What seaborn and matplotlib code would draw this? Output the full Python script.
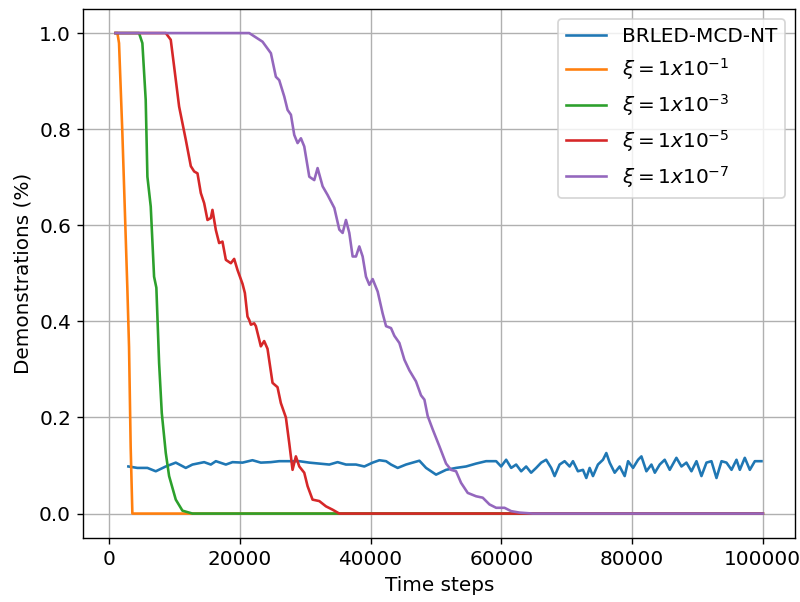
import pandas as pd
import matplotlib
matplotlib.use("Agg")
import matplotlib.pyplot as plt
import seaborn as sns

# 讀圖得到的數值
labels = ["BRLED-MCD-NT", r"$\xi = 1x10^{-1}$", r"$\xi = 1x10^{-3}$",
          r"$\xi = 1x10^{-5}$", r"$\xi = 1x10^{-7}$"]
colors = ["#1f77b4", "#ff7f0e", "#2ca02c", "#d62728", "#9467bd"]

base_x = [2960, 4340, 5870, 7150, 8680, 10210, 11740, 12760, 14550, 15570, 16340,
          17870, 18890, 20420, 21940, 23220, 24750, 26030, 27560, 29100, 30630,
          32160, 33690, 34960, 36240, 37770, 39050, 40320, 41350, 42370, 43130,
          44150, 45420, 46440, 47470, 48490, 50020, 51550, 53080, 54610, 56140,
          57670, 59210, 59970, 60740, 61510, 62270, 63040, 63800, 64560, 65330,
          66100, 66860, 67630, 68150, 68910, 69680, 70450, 70960, 71720, 72490,
          73000, 73510, 74020, 74780, 75550, 76060, 76570, 77340, 78100, 78870,
          79390, 80150, 80920, 81430, 82190, 82960, 83480, 84230, 84990, 85760,
          86780, 87550, 88310, 89080, 89850, 90610, 91380, 92140, 92910, 93680,
          94440, 95210, 95970, 96480, 97240, 98010, 98780, 99790]
base_y = [0.098, 0.095, 0.095, 0.088, 0.098, 0.106, 0.095, 0.102, 0.107, 0.102, 0.109,
          0.102, 0.107, 0.106, 0.111, 0.106, 0.107, 0.109, 0.109, 0.109, 0.106,
          0.104, 0.102, 0.107, 0.102, 0.102, 0.098, 0.106, 0.111, 0.109, 0.102,
          0.095, 0.102, 0.106, 0.110, 0.095, 0.081, 0.091, 0.095, 0.098, 0.104,
          0.109, 0.109, 0.098, 0.112, 0.095, 0.102, 0.088, 0.098, 0.085, 0.095,
          0.106, 0.112, 0.095, 0.078, 0.102, 0.109, 0.098, 0.109, 0.088, 0.091,
          0.074, 0.095, 0.078, 0.102, 0.112, 0.126, 0.106, 0.085, 0.098, 0.078,
          0.109, 0.095, 0.112, 0.119, 0.088, 0.102, 0.085, 0.102, 0.112, 0.091,
          0.116, 0.098, 0.106, 0.088, 0.109, 0.078, 0.106, 0.109, 0.074, 0.109,
          0.106, 0.091, 0.112, 0.091, 0.116, 0.091, 0.109, 0.109]

xi1_x = [1000, 1280, 1530, 2040, 2800, 3060, 3310, 3570, 100000]
xi1_y = [1.0, 1.0, 0.979, 0.792, 0.470, 0.347, 0.139, 0.0, 0.0]

xi3_x = [1000, 4590, 5100, 5610, 5870, 6380, 6890, 7240, 7660, 8070, 8680, 9190,
         10210, 11230, 12760, 100000]
xi3_y = [1.0, 1.0, 0.979, 0.861, 0.701, 0.639, 0.493, 0.470, 0.313, 0.209, 0.126,
         0.078, 0.029, 0.006, 0.0, 0.0]

xi5_x = [1000, 8680, 9440, 9950, 10720, 11740, 12510, 13020, 13530, 14040, 14550,
         15060, 15570, 15820, 16340, 16840, 17350, 17870, 18630, 19140, 19650,
         20420, 20780, 21180, 21440, 21700, 22200, 22460, 22970, 23220, 23730,
         24240, 25010, 25770, 26280, 27050, 27560, 28070, 28580, 29100, 29860,
         30370, 31130, 32160, 33180, 34200, 35220, 100000]
xi5_y = [1.0, 1.0, 0.986, 0.931, 0.847, 0.778, 0.723, 0.712, 0.708, 0.667, 0.646,
         0.611, 0.615, 0.632, 0.590, 0.563, 0.566, 0.528, 0.521, 0.530, 0.507,
         0.478, 0.459, 0.410, 0.403, 0.393, 0.396, 0.390, 0.362, 0.348, 0.359,
         0.343, 0.272, 0.263, 0.230, 0.200, 0.147, 0.091, 0.119, 0.098, 0.085,
         0.057, 0.029, 0.026, 0.015, 0.008, 0.0, 0.0]

xi7_x = [1000, 21440, 23480, 24760, 25520, 26030, 26800, 27310, 27820, 28330, 28840,
         29350, 29860, 30630, 31390, 31900, 32670, 33430, 34460, 35220, 35730,
         36240, 36750, 37260, 37770, 38280, 38790, 39300, 39820, 40320, 41090,
         41840, 42370, 43130, 43640, 44410, 45180, 45940, 46950, 47720, 48240,
         48740, 49510, 50530, 51550, 52310, 53080, 53840, 54860, 56140, 57160,
         58190, 59210, 60490, 61510, 62790, 64830, 100000]
xi7_y = [1.0, 1.0, 0.982, 0.958, 0.909, 0.902, 0.868, 0.840, 0.830, 0.788, 0.771,
         0.781, 0.764, 0.701, 0.694, 0.719, 0.681, 0.663, 0.636, 0.591, 0.584,
         0.611, 0.584, 0.535, 0.535, 0.556, 0.535, 0.493, 0.476, 0.488, 0.462,
         0.417, 0.390, 0.386, 0.370, 0.355, 0.320, 0.298, 0.275, 0.246, 0.237,
         0.203, 0.175, 0.140, 0.104, 0.091, 0.088, 0.064, 0.043, 0.036, 0.033,
         0.019, 0.012, 0.012, 0.005, 0.002, 0.0, 0.0]


def build_frame():
    series = [(base_x, base_y), (xi1_x, xi1_y), (xi3_x, xi3_y),
              (xi5_x, xi5_y), (xi7_x, xi7_y)]
    frames = []
    for label, (xs, ys) in zip(labels, series):
        frames.append(pd.DataFrame({"step": xs, "value": ys, "series": label}))
    return pd.concat(frames, ignore_index=True)


def main():
    plt.rcParams["font.size"] = 11.5
    df = build_frame()

    fig, ax = plt.subplots(figsize=(6.4, 4.816), dpi=125)
    sns.lineplot(data=df, x="step", y="value", hue="series", hue_order=labels,
                 palette=colors, estimator=None, sort=False, linewidth=1.5, ax=ax)

    ax.grid(True)
    ax.set_xlabel("Time steps")
    ax.set_ylabel("Demonstrations (%)")
    ax.legend(loc="upper right", fontsize=11.5)

    fig.subplots_adjust(left=0.104, right=0.994, bottom=0.107, top=0.985)
    fig.savefig("out.png", dpi=125)
    plt.close(fig)


if __name__ == "__main__":
    main()
